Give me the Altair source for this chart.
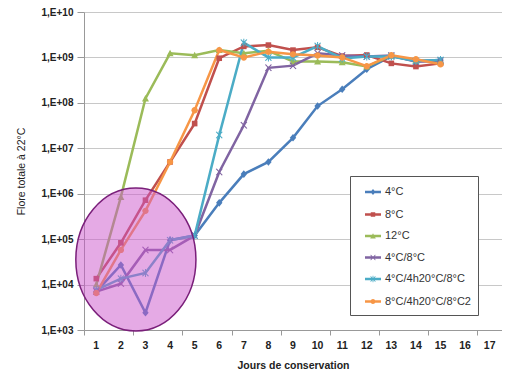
import altair as alt
import pandas as pd

days = list(range(1, 16))
series_names = ["4°C", "8°C", "12°C", "4°C/8°C", "4°C/4h20°C/8°C", "8°C/4h20°C/8°C2"]
colors = ["#4A7EBB", "#C0504D", "#9BBB59", "#8064A2", "#4BACC6", "#F79646"]

v_4 = [7e3, 2.7e4, 2.4e3, 9.5e4, 1.2e5, 6.3e5, 2.7e6, 5e6, 1.7e7, 8.5e7, 2e8, 5.5e8, 1.07e9, 8.3e8, 8.8e8]
v_8 = [1.35e4, 8.3e4, 7.2e5, 5e6, 3.5e7, 9.6e8, 1.75e9, 1.87e9, 1.45e9, 1.67e9, 1.07e9, 1.13e9, 7.4e8, 6.3e8, 7.4e8]
v_12 = [1.0e4, 8.5e5, 1.25e8, 1.23e9, 1.12e9, 1.45e9, 1.23e9, 1.4e9, 8.1e8, 8.1e8, 7.8e8, 6.3e8, 1.1e9, 8.5e8, 8.0e8]
v_48 = [7e3, 1.05e4, 5.8e4, 5.8e4, 1.2e5, 3e6, 3.2e7, 5.9e8, 6.6e8, 1.23e9, 1.1e9, 1.05e9, 1.1e9, 8e8, 8.5e8]
v_4208 = [7.6e3, 1.35e4, 1.8e4, 9.5e4, 1.2e5, 1.95e7, 2.1e9, 1.0e9, 1.0e9, 1.78e9, 9.5e8, 1.05e9, 1.05e9, 8.3e8, 8.8e8]
v_8208 = [6.5e3, 5.8e4, 4.2e5, 5e6, 6.9e7, 1.45e9, 1.0e9, 1.34e9, 1.17e9, 1.1e9, 1.0e9, 6.4e8, 1.12e9, 9.1e8, 7.1e8]
all_values = [v_4, v_8, v_12, v_48, v_4208, v_8208]

x_ticks = list(range(1, 18))
x_tick_marks = [t - 0.5 for t in range(1, 19)]
y_ticks = [1e3, 1e4, 1e5, 1e6, 1e7, 1e8, 1e9, 1e10]

# annotation ellipse (data coordinates)
ellipse_day = [2.61]
ellipse_val = [3.57e4]

rows = []
for name, vals in zip(series_names, all_values):
    for d, v in zip(days, vals):
        rows.append({"day": d, "value": v, "series": name})
df = pd.DataFrame(rows)
ell = pd.DataFrame({"day": ellipse_day, "value": ellipse_val})
ticks_df = pd.DataFrame({"tick": x_ticks})

# marker glyphs (custom paths)
diamond = "M0,-0.38L0.32,0L0,0.38L-0.32,0Z"
square = "M-0.28,-0.28H0.28V0.28H-0.28Z"
triangle = "M0,-0.35L0.35,0.3H-0.35Z"
xmark = "M-0.35,-0.3L-0.25,-0.35L0.35,0.3L0.25,0.35Z M0.35,-0.3L-0.25,0.35L-0.35,0.3L0.25,-0.35Z"
aster = xmark + " M-0.05,-0.4H0.05V0.4H-0.05Z"
circle = "M-0.32,0A0.32,0.32 0 1,1 0.32,0A0.32,0.32 0 1,1 -0.32,0Z"
markers = [diamond, square, triangle, xmark, aster, circle]
line_seg = "M-1,-0.16H1V0.16H-1Z "
legend_syms = [line_seg + m for m in markers]

x_enc = alt.X("day:Q", scale=alt.Scale(domain=[0.5, 17.5], nice=False, zero=False),
              axis=alt.Axis(values=x_tick_marks, title="Jours de conservation", grid=False,
                            labels=False, tickSize=5,
                            titleFontSize=10.5, titleFontWeight="bold", titleColor="#222",
                            domainColor="#999", tickColor="#999", titlePadding=25))
y_enc = alt.Y("value:Q", scale=alt.Scale(type="log", domain=[1e3, 1e10], nice=False),
              axis=alt.Axis(values=y_ticks, title="Flore totale à 22°C",
                            labelExpr="'1,E+' + (round(log(datum.value)/LN10) < 10 ? '0' : '') + round(log(datum.value)/LN10)",
                            labelOverlap=False,
                            labelFontWeight="bold", labelFontSize=10, titleFontSize=10.5,
                            titleFontWeight="normal", labelColor="#222", titleColor="#222",
                            grid=True, gridColor="#c8c8c8", domainColor="#999", tickColor="#999",
                            tickSize=7, labelPadding=4, titlePadding=15))

base = alt.Chart(df)

lines = base.mark_line(strokeWidth=2.5).encode(
    x=x_enc, y=y_enc,
    color=alt.Color("series:N", scale=alt.Scale(domain=series_names, range=colors), legend=None),
    order="day:Q",
)

points = base.mark_point(filled=True, size=400, opacity=1).encode(
    x="day:Q", y="value:Q",
    color=alt.Color("series:N", scale=alt.Scale(domain=series_names, range=colors), legend=None),
    shape=alt.Shape("series:N", scale=alt.Scale(domain=series_names, range=markers), legend=None),
)

x_labels = alt.Chart(ticks_df).mark_text(
    fontWeight="bold", fontSize=10.5, baseline="top", color="#222"
).encode(x="tick:Q", y=alt.value(329), text="tick:N")

leg = dict(title=None, orient="none", legendX=266, legendY=164,
           strokeColor="#555", fillColor="white", padding=7,
           symbolSize=256, symbolOpacity=1, labelFontSize=11,
           labelColor="#333", labelFont="Liberation Sans",
           rowPadding=6.5, labelOffset=3, symbolOffset=7)

legend_layer = base.transform_filter("false").mark_point(filled=True, opacity=1).encode(
    x="day:Q", y="value:Q",
    color=alt.Color("series:N", scale=alt.Scale(domain=series_names, range=colors),
                    legend=alt.Legend(**leg)),
    shape=alt.Shape("series:N", scale=alt.Scale(domain=series_names, range=legend_syms),
                    legend=alt.Legend(**leg)),
)

ellipse = alt.Chart(ell).mark_point(
    shape="M-0.84,0A0.84,1 0 1,1 0.84,0A0.84,1 0 1,1 -0.84,0Z",
    size=20449, filled=True, fill="#cc55cc", fillOpacity=0.5,
    stroke="#7a1f7a", strokeWidth=1.5, strokeOpacity=1, opacity=1,
).encode(x="day:Q", y="value:Q")

chart = alt.layer(lines, points, ellipse, x_labels, legend_layer).resolve_scale(
    color="independent", shape="independent"
).properties(
    width=418, height=318,
    autosize=alt.AutoSizeParams(type="none"),
    padding={"left": 76, "top": 4, "right": 0, "bottom": 40},
).configure(font="Liberation Sans").configure_view(stroke=None)

chart.save("out.html", embed_options={"renderer": "svg", "actions": False})
